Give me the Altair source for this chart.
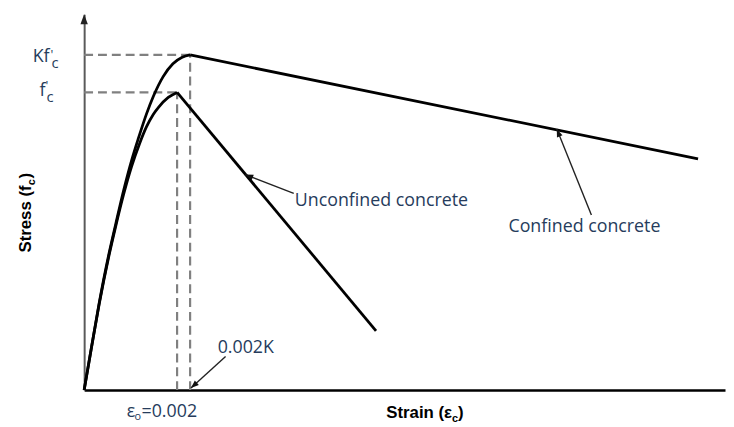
import altair as alt
import pandas as pd

# ---- data (strain, stress in units of f'c) ----
unc_strain = [0, 0.00015, 0.00032, 0.00053, 0.00068, 0.00085, 0.00102, 0.00119, 0.00134, 0.00149, 0.0016, 0.00181, 0.002]
unc_stress = [0, 0.136, 0.286, 0.449, 0.551, 0.658, 0.751, 0.827, 0.884, 0.927, 0.950, 0.983, 1.0]
unc_desc_strain = [0.002, 0.00628]
unc_desc_stress = [1.0, 0.199]

conf_strain = [0, 0.00015, 0.00032, 0.00053, 0.00068, 0.00085, 0.00102, 0.00117, 0.00134, 0.00149, 0.0017, 0.00191, 0.00211, 0.00228]
conf_stress = [0, 0.136, 0.289, 0.455, 0.558, 0.671, 0.771, 0.847, 0.927, 0.987, 1.053, 1.096, 1.118, 1.126]
conf_desc_strain = [0.00228, 0.01321]
conf_desc_stress = [1.126, 0.777]

# annotation pointers: tail -> head (strain, stress), head angle in degrees
arrow_tail_x = [0.00451, 0.010915, 0.003043]
arrow_tail_y = [0.661, 0.588, 0.113]
arrow_head_x = [0.003468, 0.01017, 0.002298]
arrow_head_y = [0.724, 0.877, 0.0066]
arrow_angle = [291, 338, 228]

x_max = 0.01379
y_max = 1.2625

TXT = "#263c5c"
ANN_FONT = "Open Sans"
AX_FONT = "Liberation Sans"
HEAD = "M0,0L-0.6,1.6L0.6,1.6Z"

xs = alt.Scale(domain=[0, x_max], nice=False, zero=False)
ys = alt.Scale(domain=[0, y_max], nice=False, zero=False)

asc = pd.concat([
    pd.DataFrame({"x": unc_strain, "y": unc_stress, "s": "unconfined"}),
    pd.DataFrame({"x": conf_strain, "y": conf_stress, "s": "confined"}),
])
desc = pd.concat([
    pd.DataFrame({"x": unc_desc_strain, "y": unc_desc_stress, "s": "unconfined"}),
    pd.DataFrame({"x": conf_desc_strain, "y": conf_desc_stress, "s": "confined"}),
])

e0, f0 = unc_strain[-1], unc_stress[-1]
ek, fk = conf_strain[-1], conf_stress[-1]
dash_df = pd.DataFrame({
    "x": [0, 0, e0, ek], "x2": [e0, ek, e0, ek],
    "y": [f0, fk, 0, 0], "y2": [f0, fk, f0, fk],
})
arrows = pd.DataFrame({"x": arrow_tail_x, "y": arrow_tail_y,
                       "x2": arrow_head_x, "y2": arrow_head_y, "a": arrow_angle})

X = lambda f: alt.X(f, type="quantitative", scale=xs, title=None)
Y = lambda f: alt.Y(f, type="quantitative", scale=ys, title=None)

dashes = alt.Chart(dash_df).mark_rule(color="#808080", strokeWidth=2.2, strokeDash=[9, 5]).encode(
    x=X("x"), x2="x2", y=Y("y"), y2="y2")

asc_l = alt.Chart(asc).mark_line(color="black", strokeWidth=2.8, interpolate="monotone").encode(
    x=X("x"), y=Y("y"), detail="s:N", order="x:Q")
desc_l = alt.Chart(desc).mark_line(color="black", strokeWidth=2.8).encode(
    x=X("x"), y=Y("y"), detail="s:N")

shafts = alt.Chart(arrows).mark_rule(color="#222222", strokeWidth=1.4).encode(
    x=X("x"), y=Y("y"), x2="x2", y2="y2")
heads = alt.Chart(arrows).mark_point(shape=HEAD, filled=True, size=100, color="#111111", opacity=1).encode(
    x=X("x2"), y=Y("y2"), angle=alt.Angle("a:Q", scale=None))

yarrow = alt.Chart(pd.DataFrame({"x": [0], "y": [y_max]})).mark_point(
    shape=HEAD, filled=True, size=156, color="#222222", opacity=1).encode(x=X("x"), y=Y("y"))


def txt(text, x, y, size, align="left", baseline="alphabetic", angle=0, bold=False, font=ANN_FONT, color=TXT):
    return alt.Chart(pd.DataFrame({"t": [text]})).mark_text(
        align=align, baseline=baseline, fontSize=size, font=font,
        fontWeight="bold" if bold else "normal", color=color, angle=angle
    ).encode(x=alt.value(x), y=alt.value(y), text="t:N")


texts = [
    # y-axis value labels
    txt("Kf", -35, 48, 18, align="right"),
    txt("'", -34, 45, 13),
    txt("c", -33, 54, 15),
    txt("f", -39, 83, 18, align="right"),
    txt("'", -39, 77, 13),
    txt("c", -38, 89, 15),
    # curve annotations
    txt("Unconfined concrete", 213, 189, 18, baseline="middle"),
    txt("Confined concrete", 429, 215, 18, baseline="middle"),
    txt("0.002K", 135, 338, 18, baseline="middle"),
    txt("ε", 43, 407, 18),
    txt("o", 51, 410, 11),
    txt("=0.002", 58, 407, 18),
    # axis titles
    txt("Strain (ε", 372, 408, 17, align="right", bold=True, font=AX_FONT, color="black"),
    txt("c", 372, 412, 11, bold=True, font=AX_FONT, color="black"),
    txt(")", 378, 408, 17, bold=True, font=AX_FONT, color="black"),
    txt("Stress (f", -54, 173, 17, align="right", angle=270, bold=True, font=AX_FONT, color="black"),
    txt("c", -50, 173, 11, angle=270, bold=True, font=AX_FONT, color="black"),
    txt(")", -54, 166, 17, angle=270, bold=True, font=AX_FONT, color="black"),
]

chart = alt.layer(dashes, asc_l, desc_l, shafts, heads, yarrow, *texts).properties(
    width=648, height=380,
    padding={"left": 77, "top": 4, "right": 1, "bottom": 35},
    autosize=alt.AutoSizeParams(type="none"),
).configure_view(stroke=None).configure_axis(
    labels=False, ticks=False, grid=False
).configure_axisX(domainColor="black", domainWidth=2.5).configure_axisY(
    domainColor="#5a5a5a", domainWidth=2)

chart.save("out.html", embed_options={"renderer": "svg", "actions": False})
